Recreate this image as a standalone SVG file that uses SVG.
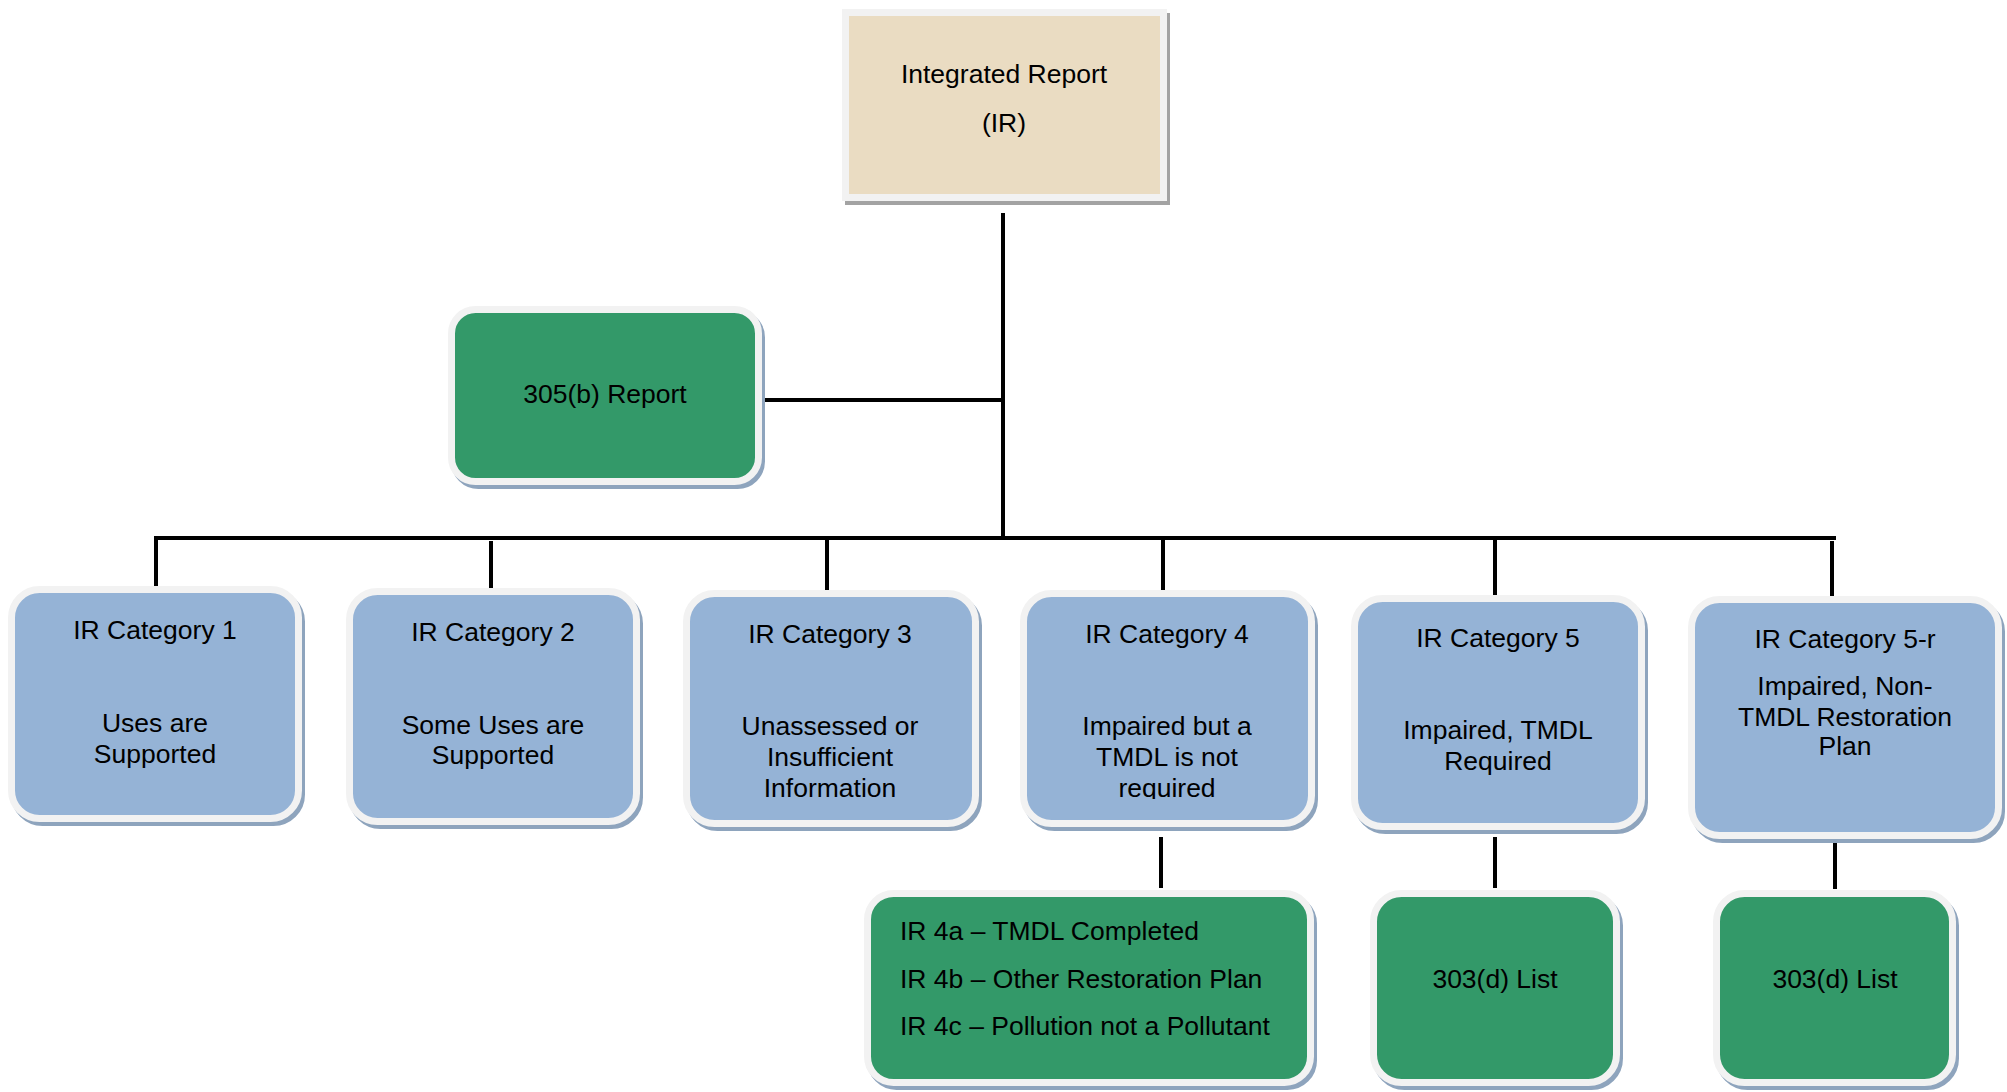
<svg xmlns="http://www.w3.org/2000/svg" width="2007" height="1092" viewBox="0 0 2007 1092">
<style>
.t{font-family:"Liberation Sans",Arial,sans-serif;font-size:26.5px;fill:#000;}
.c{text-anchor:middle;}
.sh{fill:#8ea4bd;stroke:#8ea4bd;stroke-width:7;}
.shg{fill:#a3a3a3;stroke:#a3a3a3;stroke-width:7;}
.blue{fill:#95b3d6;stroke:#f2f2f2;stroke-width:7;}
.green{fill:#339969;stroke:#f2f2f2;stroke-width:7;}
.beige{fill:#eadcc2;stroke:#f2f2f2;stroke-width:7;}
.ln{stroke:#000;stroke-width:4;fill:none;}
</style>
<defs>
<clipPath id="clip4"><rect x="1020" y="590" width="300" height="209"/></clipPath>
</defs>
<rect width="2007" height="1092" fill="#fff"/>

<g id="connectors">
<line class="ln" x1="1003" y1="213" x2="1003" y2="540"/>
<line class="ln" x1="757" y1="400" x2="1003" y2="400"/>
<line class="ln" x1="154" y1="538" x2="1836" y2="538"/>
<line class="ln" x1="156" y1="536" x2="156" y2="589"/>
<line class="ln" x1="491" y1="541" x2="491" y2="592"/>
<line class="ln" x1="827" y1="538" x2="827" y2="592"/>
<line class="ln" x1="1163" y1="538" x2="1163" y2="592"/>
<line class="ln" x1="1495" y1="538" x2="1495" y2="596"/>
<line class="ln" x1="1832" y1="541" x2="1832" y2="597"/>
<line class="ln" x1="1161" y1="837" x2="1161" y2="888"/>
<line class="ln" x1="1495" y1="837" x2="1495" y2="888"/>
<line class="ln" x1="1835" y1="838" x2="1835" y2="889"/>
</g>

<g id="integrated-report">
<rect class="shg" x="848.5" y="16.5" width="318" height="185"/>
<rect class="beige" x="845.5" y="12.5" width="318" height="185"/>
<text class="t c" x="1004" y="83">Integrated Report</text>
<text class="t c" x="1004" y="132">(IR)</text>
</g>

<g id="report-305b">
<rect class="sh" x="454.5" y="313.5" width="307" height="172" rx="24"/>
<rect class="green" x="451.5" y="309.5" width="307" height="172" rx="24"/>
<text class="t c" x="605" y="403">305(b) Report</text>
</g>

<g id="cat1">
<rect class="sh" x="14.5" y="593.5" width="287" height="229" rx="28"/>
<rect class="blue" x="11.5" y="589.5" width="287" height="229" rx="28"/>
<text class="t c" x="155" y="639">IR Category 1</text>
<text class="t c" x="155" y="732">Uses are</text>
<text class="t c" x="155" y="763">Supported</text>
</g>

<g id="cat2">
<rect class="sh" x="352.5" y="595.5" width="287" height="230" rx="28"/>
<rect class="blue" x="349.5" y="591.5" width="287" height="230" rx="28"/>
<text class="t c" x="493" y="641">IR Category 2</text>
<text class="t c" x="493" y="734">Some Uses are</text>
<text class="t c" x="493" y="764">Supported</text>
</g>

<g id="cat3">
<rect class="sh" x="689.5" y="597.5" width="289" height="230" rx="28"/>
<rect class="blue" x="686.5" y="593.5" width="289" height="230" rx="28"/>
<text class="t c" x="830" y="643">IR Category 3</text>
<text class="t c" x="830" y="735">Unassessed or</text>
<text class="t c" x="830" y="766">Insufficient</text>
<text class="t c" x="830" y="797">Information</text>
</g>

<g id="cat4">
<rect class="sh" x="1026.5" y="597.5" width="288" height="230" rx="28"/>
<rect class="blue" x="1023.5" y="593.5" width="288" height="230" rx="28"/>
<text class="t c" x="1167" y="643">IR Category 4</text>
<text class="t c" x="1167" y="735">Impaired but a</text>
<text class="t c" x="1167" y="766">TMDL is not</text>
<text class="t c" x="1167" y="797" clip-path="url(#clip4)">required</text>
</g>

<g id="cat5">
<rect class="sh" x="1357.5" y="602.5" width="287" height="228" rx="28"/>
<rect class="blue" x="1354.5" y="598.5" width="287" height="228" rx="28"/>
<text class="t c" x="1498" y="647">IR Category 5</text>
<text class="t c" x="1498" y="739">Impaired, TMDL</text>
<text class="t c" x="1498" y="770">Required</text>
</g>

<g id="cat5r">
<rect class="sh" x="1694.5" y="603.5" width="307" height="236" rx="28"/>
<rect class="blue" x="1691.5" y="599.5" width="307" height="236" rx="28"/>
<text class="t c" x="1845" y="648">IR Category 5-r</text>
<text class="t c" x="1845" y="695">Impaired, Non-</text>
<text class="t c" x="1845" y="726">TMDL Restoration</text>
<text class="t c" x="1845" y="755">Plan</text>
</g>

<g id="ir4">
<rect class="sh" x="870.5" y="897.5" width="443" height="189" rx="26"/>
<rect class="green" x="867.5" y="893.5" width="443" height="189" rx="26"/>
<text class="t" x="900" y="940">IR 4a – TMDL Completed</text>
<text class="t" x="900" y="988">IR 4b – Other Restoration Plan</text>
<text class="t" x="900" y="1035">IR 4c – Pollution not a Pollutant</text>
</g>

<g id="list303-5">
<rect class="sh" x="1376.5" y="897.5" width="243" height="189" rx="28"/>
<rect class="green" x="1373.5" y="893.5" width="243" height="189" rx="28"/>
<text class="t c" x="1495" y="988">303(d) List</text>
</g>

<g id="list303-5r">
<rect class="sh" x="1719.5" y="897.5" width="236" height="189" rx="28"/>
<rect class="green" x="1716.5" y="893.5" width="236" height="189" rx="28"/>
<text class="t c" x="1835" y="988">303(d) List</text>
</g>
</svg>
